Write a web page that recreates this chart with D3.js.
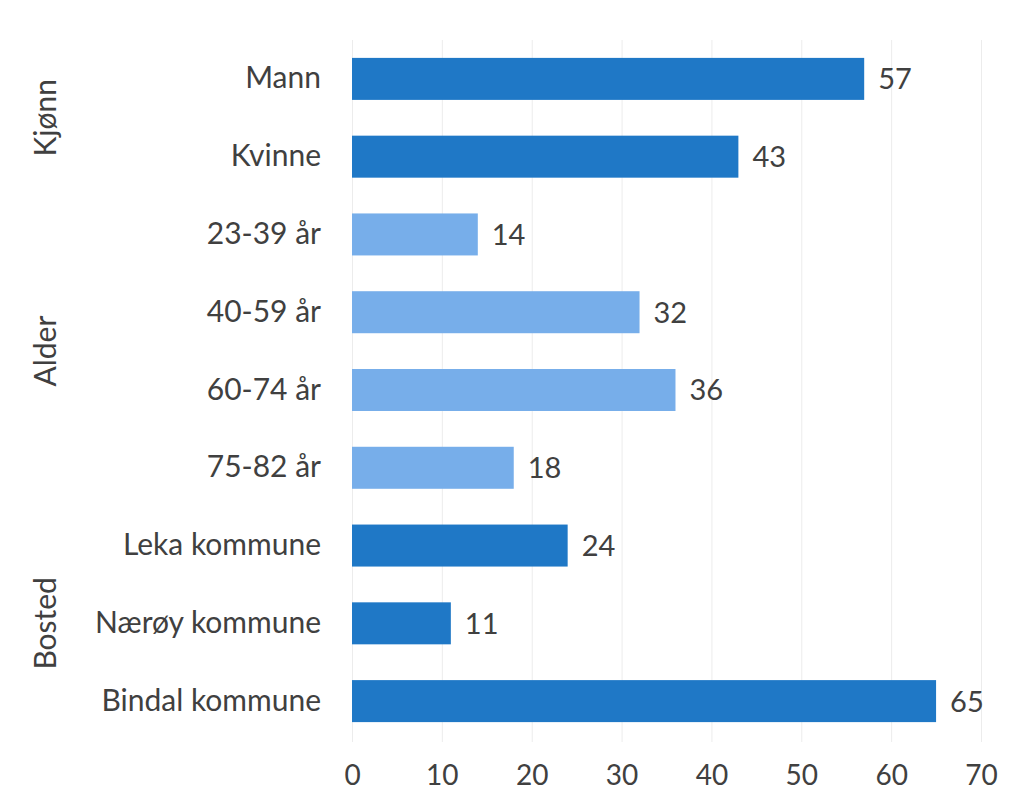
<!DOCTYPE html>
<html>
<head>
<meta charset="utf-8">
<script src="https://cdn.jsdelivr.net/npm/d3@7"></script>
<style>
  body{margin:0;background:#fff}
  text{font-family:Lato,"Open Sans",sans-serif;fill:#404040}
</style>
</head>
<body>
<div id="chart"></div>
<script>
  // shared config
  var width  = 1020,
      height = 802;

  // data
  var categories = ['Mann','Kvinne','23-39 år','40-59 år','60-74 år','75-82 år','Leka kommune','Nærøy kommune','Bindal kommune'];
  var values     = [57, 43, 14, 32, 36, 18, 24, 11, 65];
  var shade      = ['dark','dark','light','light','light','light','dark','dark','dark'];
  var groups     = [
    {name:'Kjønn',  first:'Mann',         last:'Kvinne'},
    {name:'Alder',  first:'23-39 år',     last:'75-82 år'},
    {name:'Bosted', first:'Leka kommune', last:'Bindal kommune'}
  ];
  var ticks = [0,10,20,30,40,50,60,70];

  var colors = {dark:'#1f78c6', light:'#77aeea'};

  var svg = d3.select('#chart').append('svg')
    .attr('width', width)
    .attr('height', height);

  var x = d3.scaleLinear().domain([0,70]).range([352, 981]);
  var y = d3.scaleBand().domain(categories).range([40, 740]).paddingInner(0.46).paddingOuter(0.23);

  // gridlines
  svg.append('g').selectAll('line').data(ticks).enter().append('line')
    .attr('x1', function(d){return x(d)+0.5})
    .attr('x2', function(d){return x(d)+0.5})
    .attr('y1', 40).attr('y2', 742)
    .attr('stroke', '#ececec').attr('stroke-width', 1);

  // bars
  svg.append('g').selectAll('rect').data(categories).enter().append('rect')
    .attr('x', x(0))
    .attr('y', function(d){return y(d)})
    .attr('height', y.bandwidth())
    .attr('width', function(d,i){return x(values[i]) - x(0)})
    .attr('fill', function(d,i){return colors[shade[i]]});

  // value labels
  svg.append('g').selectAll('text').data(categories).enter().append('text')
    .attr('x', function(d,i){return x(values[i]) + 14})
    .attr('y', function(d){return y(d) + y.bandwidth()/2})
    .attr('dy', '0.36em')
    .style('font-size', '29px')
    .text(function(d,i){return values[i]});

  // category axis
  var yAxis = svg.append('g')
    .attr('transform', 'translate(' + (x(0) - 31) + ',0)')
    .call(d3.axisLeft(y).tickSize(0).tickPadding(0));
  yAxis.select('.domain').remove();
  yAxis.selectAll('text').style('font-size','30px').attr('fill','#404040').attr('font-family', null);

  // value axis
  var xAxis = svg.append('g')
    .attr('transform', 'translate(0,755)')
    .call(d3.axisBottom(x).tickValues(ticks).tickSize(0).tickPadding(10));
  xAxis.select('.domain').remove();
  xAxis.selectAll('text').style('font-size','28px').attr('fill','#404040').attr('font-family', null);

  // group labels
  svg.append('g').selectAll('text').data(groups).enter().append('text')
    .attr('transform', function(g){
      var cy = (y(g.first) + y(g.last) + y.bandwidth())/2;
      return 'translate(45,' + cy + ') rotate(-90)';
    })
    .attr('text-anchor', 'middle')
    .attr('dy', '0.36em')
    .style('font-size', '30px')
    .text(function(g){return g.name});
</script>
</body>
</html>
